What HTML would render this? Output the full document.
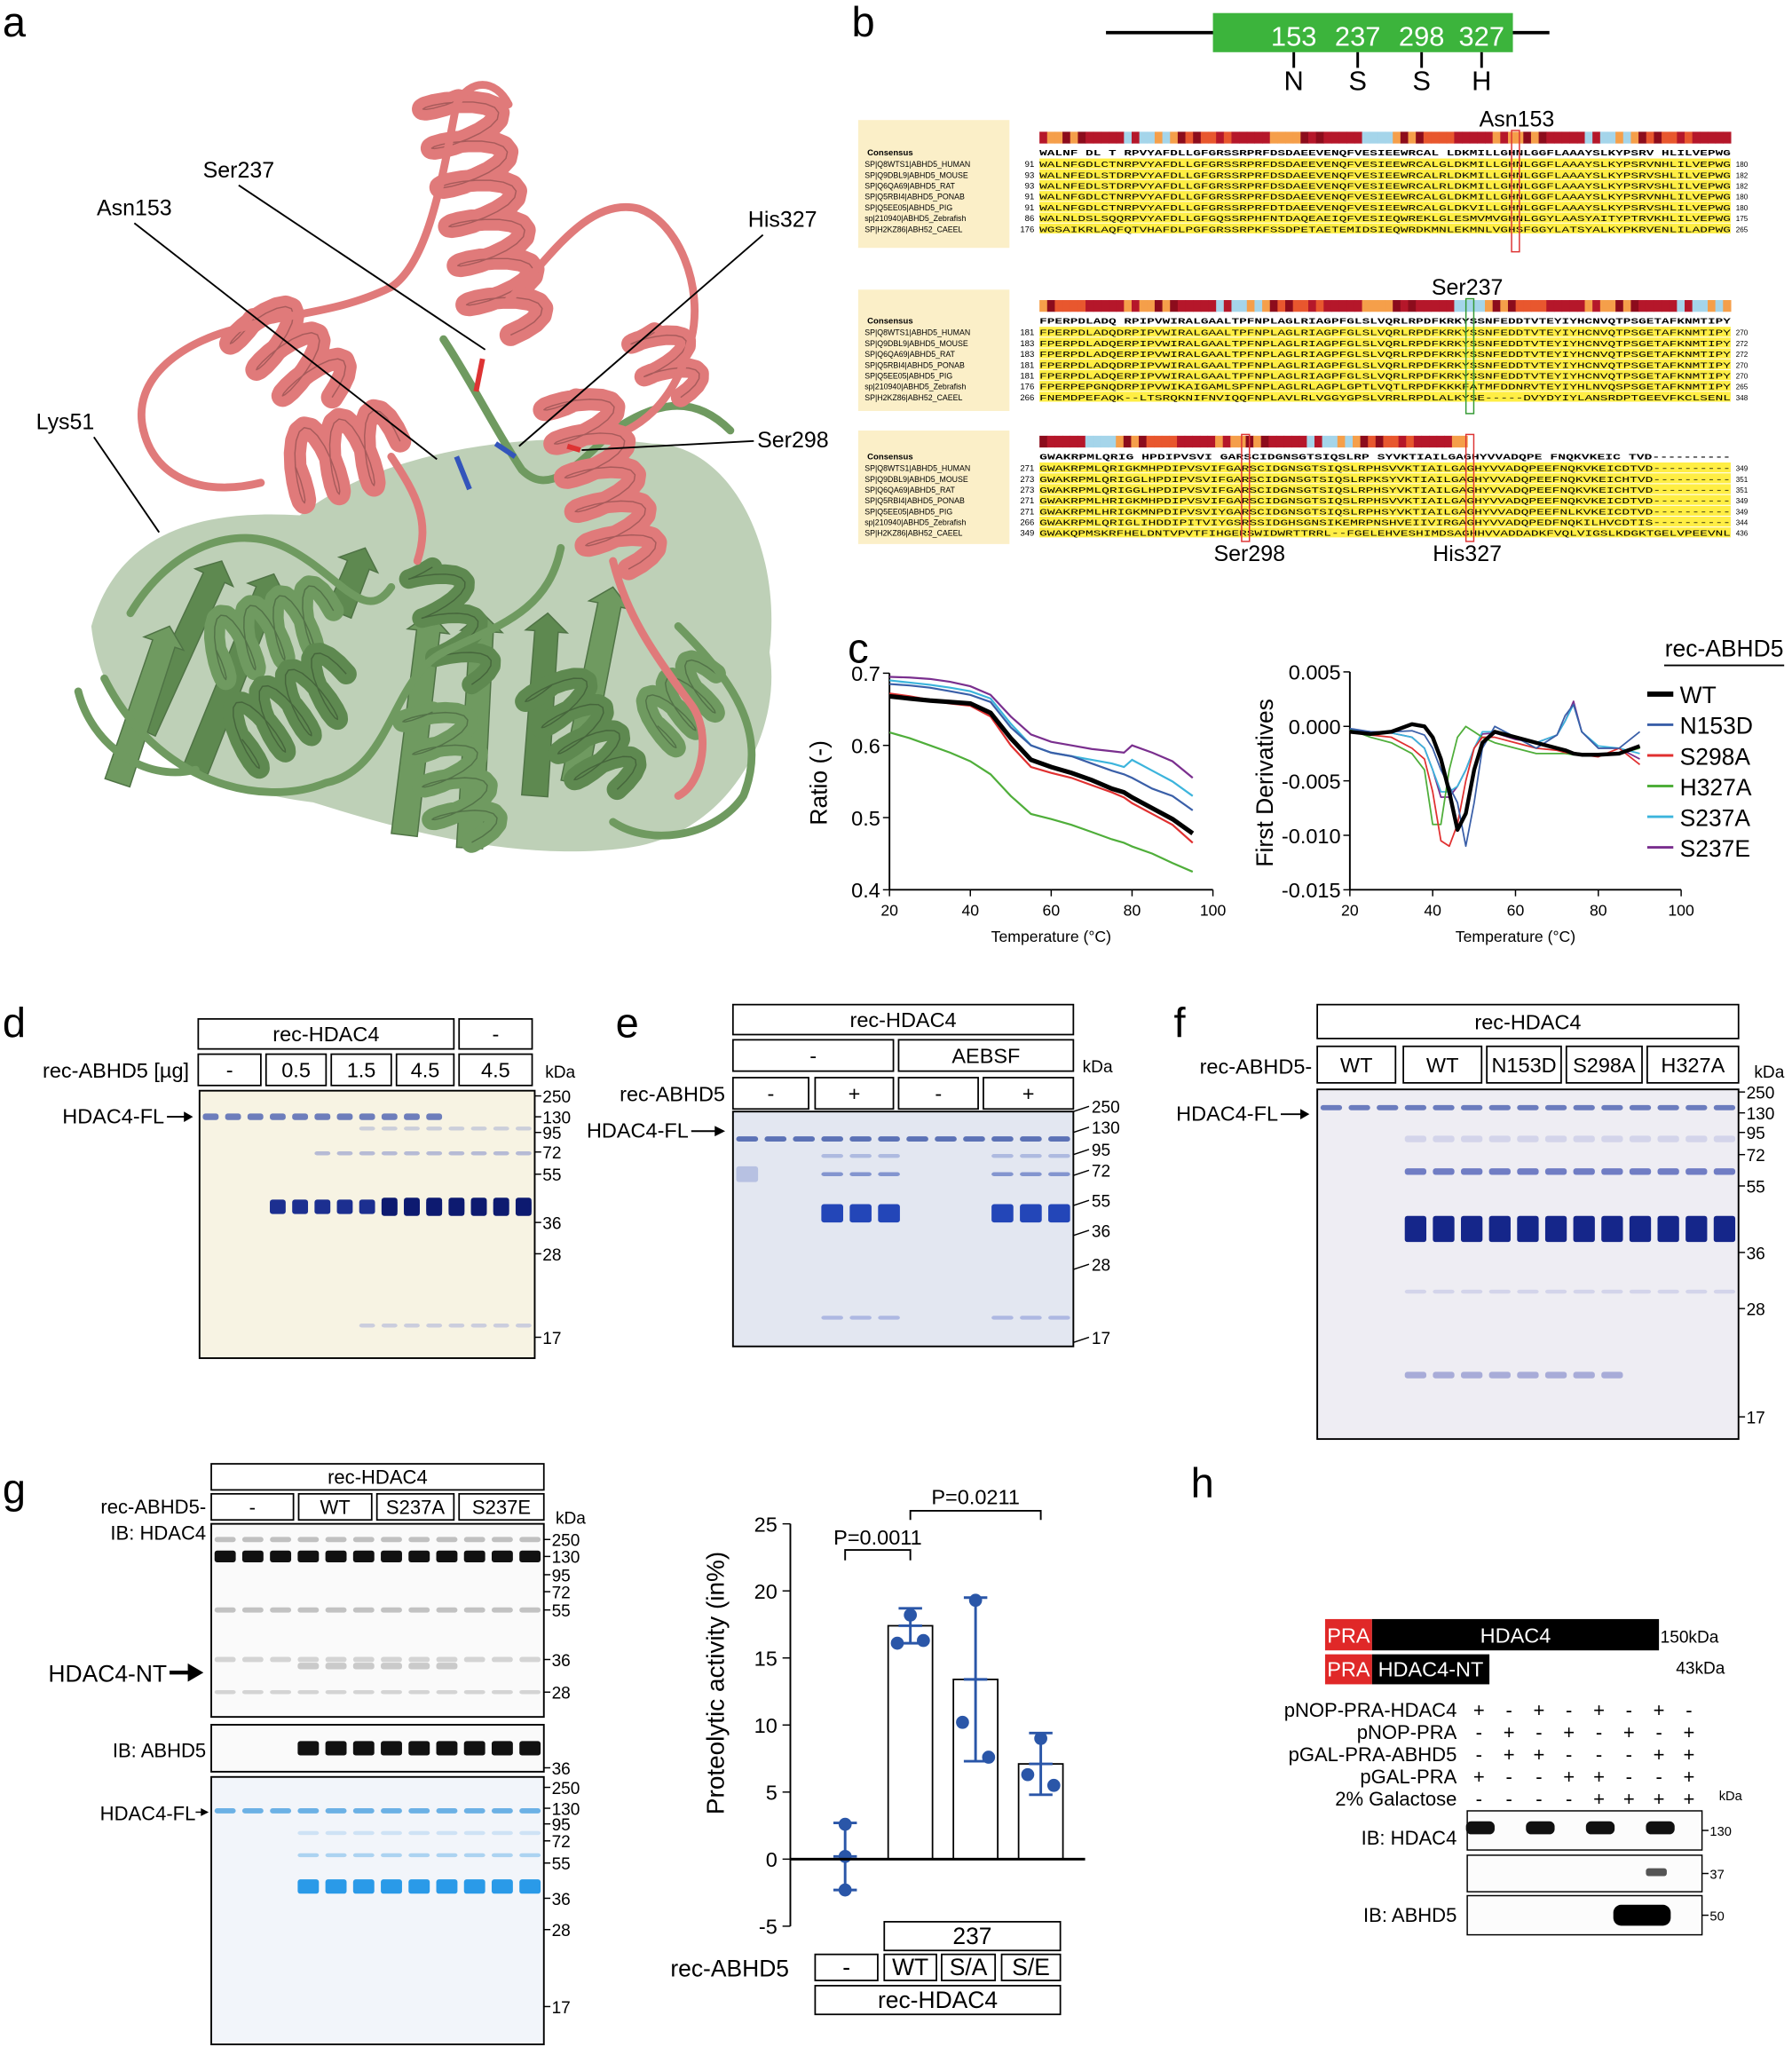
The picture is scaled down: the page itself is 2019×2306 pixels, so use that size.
<!DOCTYPE html>
<html><head><meta charset="utf-8"><style>
html,body{margin:0;padding:0;background:#fff}
svg{display:block}
text{font-family:"Liberation Sans",sans-serif}
.mono{font-family:"Liberation Mono",monospace}
</style></head><body>
<svg id="fig" xmlns="http://www.w3.org/2000/svg" width="2019" height="2306" viewBox="0 0 1374 1569" preserveAspectRatio="none">
<g id="letters" font-size="32">
<text x="2" y="28">a</text>
<text x="653" y="28">b</text>
<text x="650" y="508">c</text>
<text x="2" y="795">d</text>
<text x="472" y="795">e</text>
<text x="900" y="795">f</text>
<text x="2" y="1152">g</text>
<text x="913" y="1148">h</text>
</g>
<g id="protein"></g>
<g id="align"></g>
<g id="chartc"></g>
<g id="gels"></g>
<g id="bars"></g>
<g id="panelh"></g>
</svg>
<script>
// ---- chart c data ----
const tempsL = [20,25,30,35,40,45,50,55,60,65,70,75,78,80,85,90,95];
const ratioWT    = [0.668,0.665,0.662,0.660,0.658,0.645,0.610,0.580,0.570,0.562,0.552,0.540,0.535,0.528,0.513,0.498,0.478];
const ratioN153D = [0.685,0.683,0.680,0.675,0.670,0.660,0.625,0.600,0.590,0.585,0.575,0.565,0.560,0.555,0.540,0.530,0.510];
const ratioS298A = [0.672,0.668,0.663,0.658,0.655,0.640,0.600,0.570,0.562,0.555,0.545,0.535,0.528,0.520,0.505,0.490,0.465];
const ratioH327A = [0.618,0.610,0.600,0.590,0.578,0.560,0.530,0.505,0.498,0.490,0.480,0.470,0.465,0.460,0.450,0.437,0.425];
const ratioS237A = [0.690,0.687,0.684,0.680,0.675,0.665,0.630,0.600,0.590,0.585,0.580,0.575,0.570,0.580,0.565,0.550,0.530];
const ratioS237E = [0.695,0.694,0.692,0.688,0.682,0.670,0.640,0.615,0.605,0.600,0.595,0.592,0.590,0.600,0.590,0.578,0.555];
const tempsR = [20,25,30,35,38,40,42,44,46,48,50,52,55,60,65,70,72,74,76,80,85,90];
const derWT    = [-0.0005,-0.0007,-0.0005,0.0002,0,-0.001,-0.003,-0.006,-0.0095,-0.008,-0.004,-0.0015,-0.0005,-0.001,-0.0015,-0.002,-0.0022,-0.0025,-0.0026,-0.0026,-0.0025,-0.0018];
const derN153D = [-0.0002,-0.0005,-0.0005,-0.0004,-0.0008,-0.002,-0.004,-0.0055,-0.007,-0.011,-0.007,-0.002,0,-0.001,-0.002,-0.0008,0.001,0.002,-0.0005,-0.002,-0.002,-0.0005];
const derS298A = [-0.0005,-0.0008,-0.001,-0.002,-0.003,-0.006,-0.0105,-0.011,-0.009,-0.005,-0.002,-0.001,-0.001,-0.0015,-0.002,-0.0022,-0.0024,-0.0025,-0.0026,-0.0028,-0.002,-0.0035];
const derH327A = [-0.0003,-0.001,-0.0015,-0.0025,-0.004,-0.009,-0.009,-0.004,-0.001,0,-0.0005,-0.001,-0.0015,-0.002,-0.0025,-0.0025,-0.0025,-0.0026,-0.0026,-0.0026,-0.0025,-0.002];
const derS237A = [-0.0003,-0.0005,-0.0006,-0.001,-0.002,-0.004,-0.006,-0.006,-0.0055,-0.004,-0.002,-0.0005,-0.0005,-0.001,-0.0015,-0.0008,0.0005,0.002,-0.0005,-0.0018,-0.002,-0.0025];
const derS237E = [-0.0003,-0.0005,-0.0006,-0.001,-0.002,-0.004,-0.0065,-0.0065,-0.0055,-0.004,-0.002,-0.0007,-0.0006,-0.0012,-0.0015,-0.0008,0.0005,0.0023,-0.0005,-0.002,-0.002,-0.003];
const seriesNames = ["WT","N153D","S298A","H327A","S237A","S237E"];
const xTicksC = [20,40,60,80,100];
const yTicksL = [0.4,0.5,0.6,0.7];
const yTicksR = [-0.015,-0.010,-0.005,0.000,0.005];
// ---- bar chart g data ----
const barCats = ["-","WT","S/A","S/E"];
const barMeans = [0.2,17.4,13.4,7.1];
const barSD = [2.5,1.3,6.1,2.3];
const barPoints = [[2.6,0.2,-2.3],[18.2,16.1,16.3],[19.3,10.2,7.6],[9.0,6.3,5.5]];
const barTicks = [-5,0,5,10,15,20,25];

const NS="http://www.w3.org/2000/svg";
function el(p,tag,attrs,txt){const e=document.createElementNS(NS,tag);for(const k in attrs)e.setAttribute(k,attrs[k]);if(txt!==undefined)e.textContent=txt;p.appendChild(e);return e;}
function T(p,x,y,s,size,anchor,extra){const e=el(p,'text',Object.assign({x:x,y:y,'font-size':size||14,'text-anchor':anchor||'start'},extra||{}),s);return e;}

// ================= Panel a: protein =================
(function(){
 const g=document.getElementById('protein');
 function coil(x1,y1,x2,y2,turns,amp,col,w){
  let d='';const n=turns*16;const dx=x2-x1,dy=y2-y1,L=Math.hypot(dx,dy),ux=dx/L,uy=dy/L,px=-uy,py=ux;
  for(let i=0;i<=n;i++){const t=i/n;const s=Math.sin(t*turns*2*Math.PI)*amp;const c=Math.cos(t*turns*2*Math.PI)*amp*0.25;
   const x=x1+dx*t+px*s+ux*c,y=y1+dy*t+py*s+uy*c;d+=(i?'L':'M')+x.toFixed(1)+' '+y.toFixed(1);}
  const p=el(g,'path',{d:d,fill:'none',stroke:col,'stroke-width':w||16,'stroke-linejoin':'round','stroke-linecap':'round'});
  
  el(g,'path',{d:d,fill:'none',stroke:'rgba(0,0,0,0.25)','stroke-width':1,'stroke-linejoin':'round'});
 }
 function loop(d,col,w){const p=el(g,'path',{d:d,fill:'none',stroke:col,'stroke-width':w||5,'stroke-linecap':'round','stroke-linejoin':'round'});}
 function sheet(x1,y1,x2,y2,col){const dx=x2-x1,dy=y2-y1,L=Math.hypot(dx,dy),px=-dy/L*10,py=dx/L*10;
  const p=el(g,'polygon',{points:`${x1+px},${y1+py} ${x2+px*0.9-dx/L*14},${y2+py*0.9-dy/L*14} ${x2+px*1.6-dx/L*14},${y2+py*1.6-dy/L*14} ${x2},${y2} ${x2-px*1.6-dx/L*14},${y2-py*1.6-dy/L*14} ${x2-px*0.9-dx/L*14},${y2-py*0.9-dy/L*14} ${x1-px},${y1-py}`,fill:col,stroke:'#4f7345','stroke-width':1});
  }
 const G='#6f9a60',G2='#5e8950',R='#e07a7a';
 const gb=el(g,'path',{d:'M70 480 C90 410 150 390 230 395 C300 340 420 330 500 340 C560 340 600 420 590 500 C600 560 560 640 480 650 C400 660 320 640 240 615 C160 605 80 570 70 480Z',fill:'rgba(110,150,95,0.45)',stroke:'none'});
 
 sheet(110,560,170,430,G2);sheet(150,590,210,440,G2);sheet(310,640,330,470,G);sheet(360,650,370,470,G);sheet(410,610,420,470,G2);sheet(440,600,470,450,G);sheet(260,470,280,420,G2);sheet(90,600,130,480,G);
 coil(160,500,250,470,4,24,G,16);coil(180,570,260,520,4,26,G2,16);coil(330,540,360,640,4,24,G,16);coil(420,520,470,600,4,24,G2,16);coil(500,560,545,520,3,22,G,15);coil(330,430,360,520,3,20,G2,15);
 loop('M80 520 C120 600 200 620 250 600 C300 590 300 520 340 500 C380 480 420 470 430 420',G,6);
 loop('M100 470 C130 420 180 400 220 420 C260 440 280 480 300 450',G,6);
 loop('M340 260 C360 290 380 330 400 360 C420 380 440 360 470 330 C500 310 530 300 560 330',G,6);
 loop('M520 480 C560 520 590 560 570 610 C550 640 500 650 470 630',G,6);
 loop('M60 530 C70 570 110 600 150 590',G,6);
 coil(350,70,390,250,6,28,R,17);coil(190,240,250,300,3,26,R,17);coil(220,360,300,340,3,28,R,17);coil(440,300,480,430,5,26,R,17);coil(500,250,520,300,2,20,R,15);
 loop('M110 330 C100 290 140 260 190 250 C220 240 260 240 300 220 C330 200 340 130 350 80 C360 60 380 60 390 80',R,6);
 loop('M390 230 C420 200 450 150 490 160 C520 170 540 220 530 260 C520 300 500 320 480 330',R,6);
 loop('M110 330 C120 370 160 380 200 370',R,6);
 loop('M300 350 C320 380 330 400 320 430',R,6);
 loop('M470 430 C480 470 500 500 530 540 C545 560 540 600 520 610',R,6);
 el(g,'line',{x1:350,y1:350,x2:360,y2:375,stroke:'#3355bb','stroke-width':4});
 el(g,'line',{x1:370,y1:275,x2:365,y2:300,stroke:'#dd3333','stroke-width':4});
 el(g,'line',{x1:380,y1:340,x2:395,y2:350,stroke:'#3355bb','stroke-width':4});
 el(g,'line',{x1:435,y1:342,x2:445,y2:345,stroke:'#dd3333','stroke-width':4});
 const ann=[["Ser237",183,136,372,268],["Asn153",103,165,335,352],["His327",600,174,398,342],["Ser298",608,343,446,345],["Lys51",50,329,122,408]];
 ann.forEach(a=>{const t=T(g,a[1],a[2],a[0],17,'middle');
  el(g,'line',{x1:a[0]=="Ser298"?578:(a[0]=="His327"?585:a[1]+(a[0]=="Lys51"?22:0)),y1:a[0]=="Ser298"?338:a[2]+6,x2:a[3],y2:a[4],stroke:'#000','stroke-width':1.3});});
})();

// ================= Panel b: domain + alignment =================
(function(){
 const g=document.getElementById('align');
 el(g,'line',{x1:848,y1:25,x2:1188,y2:25,stroke:'#000','stroke-width':2.5});
 const dm=el(g,'rect',{x:930,y:10,width:230,height:30,fill:'#3cb43c'});
 [[992,'153','N'],[1041,'237','S'],[1090,'298','S'],[1136,'327','H']].forEach(r=>{
  T(g,r[0],35,r[1],21,'middle',{fill:'#fff'});
  el(g,'line',{x1:r[0],y1:40,x2:r[0],y2:52,stroke:'#000','stroke-width':2});
  T(g,r[0],69,r[2],21,'middle');});
 const names=["SP|Q8WTS1|ABHD5_HUMAN","SP|Q9DBL9|ABHD5_MOUSE","SP|Q6QA69|ABHD5_RAT","SP|Q5RBI4|ABHD5_PONAB","SP|Q5EE05|ABHD5_PIG","sp|210940|ABHD5_Zebrafish","SP|H2KZ86|ABH52_CAEEL"];
 const blocks=[
  {y:92,h:98,bar:101,bw:530,cons:"WALNF DL T RPVYAFDLLGFGRSSRPRFDSDAEEVENQFVESIEEWRCAL LDKMILLGHNLGGFLAAAYSLKYPSRV HLILVEPWG",
   nums:[91,93,93,91,91,86,176],ends:[180,182,182,180,180,175,265],
   seq:["WALNFGDLCTNRPVYAFDLLGFGRSSRPRFDSDAEEVENQFVESIEEWRCALGLDKMILLGHNLGGFLAAAYSLKYPSRVNHLILVEPWG","WALNFEDLSTDRPVYAFDLLGFGRSSRPRFDSDAEEVENQFVESIEEWRCALRLDKMILLGHNLGGFLAAAYSLKYPSRVSHLILVEPWG","WALNFEDLSTDRPVYAFDLLGFGRSSRPRFDSDAEEVENQFVESIEEWRCALRLDKMILLGHNLGGFLAAAYSLKYPSRVSHLILVEPWG","WALNFGDLCTNRPVYAFDLLGFGRSSRPRFDSDAEEVENQFVESIEEWRCALGLDKMILLGHNLGGFLAAAYSLKYPSRVNHLILVEPWG","WALNFGDLCTNRPVYAFDLLGFGRSSRPRFDTDAEEVENQFVESIEEWRCALGLDKVILLGHNLGGFLAAAYSLKYPSRVSHLILVEPWG","WALNLDSLSQQRPVYAFDLLGFGQSSRPHFNTDAQEAEIQFVESIEQWREKLGLESMVMVGHNLGGYLAASYAITYPTRVKHLILVEPWG","WGSAIKRLAQFQTVHAFDLPGFGRSSRPKFSSDPETAETEMIDSIEQWRDKMNLEKMNLVGHSFGGYLATSYALKYPKRVENLILADPWG"],
   marks:[[1162,'#dd3333','Asn153',1163,97,'above']]},
  {y:222,h:93,bar:230,bw:530,cons:"FPERPDLADQ RPIPVWIRALGAALTPFNPLAGLRIAGPFGLSLVQRLRPDFKRKYSSNFEDDTVTEYIYHCNVQTPSGETAFKNMTIPY",
   nums:[181,183,183,181,181,176,266],ends:[270,272,272,270,270,265,348],
   seq:["FPERPDLADQDRPIPVWIRALGAALTPFNPLAGLRIAGPFGLSLVQRLRPDFKRKYSSNFEDDTVTEYIYHCNVQTPSGETAFKNMTIPY","FPERPDLADQERPIPVWIRALGAALTPFNPLAGLRIAGPFGLSLVQRLRPDFKRKYSSNFEDDTVTEYIYHCNVQTPSGETAFKNMTIPY","FPERPDLADQERPIPVWIRALGAALTPFNPLAGLRIAGPFGLSLVQRLRPDFKRKYSSNFEDDTVTEYIYHCNVQTPSGETAFKNMTIPY","FPERPDLADQDRPIPVWIRALGAALTPFNPLAGLRIAGPFGLSLVQRLRPDFKRKYSSNFEDDTVTEYIYHCNVQTPSGETAFKNMTIPY","FPERPDLADQERPIPVWIRALGAALTPFNPLAGLRIAGPFGLSLVQRLRPDFKRKYSSNFEDDTVTEYIYHCNVQTPSGETAFKNMTIPY","FPERPEPGNQDRPIPVWIKAIGAMLSPFNPLAGLRLAGPLGPTLVQTLRPDFKKKFATMFDDNRVTEYIYHLNVQSPSGETAFKNMTIPY","FNEMDPEFAQK--LTSRQKNIFNVIQQFNPLAVLRLVGGYGPSLVRRLRPDLALKYSE-----DVYDYIYLANSRDPTGEEVFKCLSENL"],
   marks:[[1127,'#339933','Ser237',1125,221,'above']]},
  {y:330,h:87,bar:334,bw:328,cons:"GWAKRPMLQRIG HPDIPVSVI GARSCIDGNSGTSIQSLRP SYVKTIAILGAGHYVVADQPE FNQKVKEIC TVD----------",
   nums:[271,273,273,271,271,266,349],ends:[349,351,351,349,349,344,436],
   seq:["GWAKRPMLQRIGKMHPDIPVSVIFGARSCIDGNSGTSIQSLRPHSVVKTIAILGAGHYVVADQPEEFNQKVKEICDTVD----------","GWAKRPMLQRIGGLHPDIPVSVIFGARSCIDGNSGTSIQSLRPKSYVKTIAILGAGHYVVADQPEEFNQKVKEICHTVD----------","GWAKRPMLQRIGGLHPDIPVSVIFGARSCIDGNSGTSIQSLRPHSYVKTIAILGAGHYVVADQPEEFNQKVKEICHTVD----------","GWAKRPMLHRIGKMHPDIPVSVIFGARSCIDGNSGTSIQSLRPHSVVKTIAILGAGHYVVADQPEEFNQKVKEICDTVD----------","GWAKRPMLHRIGKMNPDIPVSVIYGARSCIDGNSGTSIQSLRPHSYVKTIAILGAGHYVVADQPEEFNLKVKEICDTVD----------","GWAKRPMLQRIGLIHDDIPITVIYGSRSSIDGHSGNSIKEMRPNSHVEIIVIRGAGHYVVADQPEDFNQKILHVCDTIS----------","GWAKQPMSKRFHELDNTVPVTFIHGERSWIDWRTTRRL--FGELEHVESHIMDSAGHHVVADDADKFVQLVIGSLKDGKTGELVPEEVNL"],
   marks:[[955,'#dd3333','Ser298',958,434,'below'],[1127,'#dd3333','His327',1125,434,'below']]}
 ];
 const conColors=['#b5172a','#b5172a','#e8572e','#f59f4a','#a5d5ea','#b5172a','#8c0c1c','#f59f4a','#b5172a','#e8572e','#8c0c1c','#a5d5ea','#b5172a','#b5172a','#f59f4a'];
 blocks.forEach((b,bi)=>{
  const bg=el(g,'rect',{x:658,y:b.y,width:116,height:b.h,fill:'#fbefc8'});
  const nseg=Math.round(b.bw/5.9);
  for(let i=0;i<nseg;i++){el(g,'rect',{x:797+i*b.bw/nseg,y:b.bar,width:b.bw/nseg+0.4,height:9,fill:conColors[(i*7+bi*3+(i>>2))%conColors.length]});}
  T(g,665,b.bar+18,'Consensus',6.5,'start',{'font-weight':'bold'});
  T(g,797,b.bar+18,b.cons,6.5,'start',{class:'mono','font-weight':'bold',textLength:530,lengthAdjust:'spacingAndGlyphs'});
  for(let r=0;r<7;r++){const yy=b.bar+27+r*8.3;
   el(g,'rect',{x:797,y:yy-6.5,width:530,height:7.6,fill:'#ffee44'});
   T(g,663,yy,names[r],6,'start');
   T(g,793,yy,String(b.nums[r]),6.5,'end');
   T(g,797,yy,b.seq[r],6.5,'start',{class:'mono',textLength:530,lengthAdjust:'spacingAndGlyphs'});
   T(g,1331,yy,String(b.ends[r]),5.5,'start');}
  b.marks.forEach(m=>{el(g,'rect',{x:m[0]-3,y:b.bar-1,width:6,height:b.h-5,fill:'none',stroke:m[1],'stroke-width':1});
   const t=T(g,m[3],m[5]=='above'?b.bar-4:b.y+b.h+13,m[2],17,'middle');});
 });
})();

// ================= Panel c =================
(function(){
 const g=document.getElementById('chartc');
 const cols={"WT":"#000","N153D":"#3a5fa8","S298A":"#e03030","H327A":"#4fae3a","S237A":"#3cb4dc","S237E":"#7a2f8e"};
 const xL=t=>682+(t-20)/80*248, yL=v=>682-(v-0.4)/0.3*166;
 const xR=t=>1035+(t-20)/80*254, yR=v=>682-(v+0.015)/0.02*167;
 function axes(xf,yf,yt,fmt,x0,xlab,ylab,ylx,nm){
  el(g,'line',{x1:x0,y1:682,x2:xf(100),y2:682,stroke:'#000','stroke-width':1.3});
  el(g,'line',{x1:x0,y1:yf(yt[0]),x2:x0,y2:yf(yt[yt.length-1]),stroke:'#000','stroke-width':1.3});
  xTicksC.forEach(t=>{el(g,'line',{x1:xf(t),y1:682,x2:xf(t),y2:687,stroke:'#000'});T(g,xf(t),702,String(t),12,'middle');});
  yt.forEach(v=>{el(g,'line',{x1:x0-5,y1:yf(v),x2:x0,y2:yf(v),stroke:'#000'});T(g,x0-7,yf(v)+6,fmt(v),16,'end');});
  T(g,(x0+xf(100))/2,722,xlab,12,'middle');
  const yl=T(g,ylx,600,ylab,18,'middle',{transform:`rotate(-90 ${ylx} 600)`});
 }
 axes(xL,yL,yTicksL,v=>v.toFixed(1),682,'Temperature (°C)','Ratio (-)',634,'y-axis-title-ratio');
 axes(xR,yR,yTicksR,v=>v.toFixed(3),1035,'Temperature (°C)','First Derivatives',976,'y-axis-title-derivative');
 const L=[ratioWT,ratioN153D,ratioS298A,ratioH327A,ratioS237A,ratioS237E];
 const R=[derWT,derN153D,derS298A,derH327A,derS237A,derS237E];
 [5,4,3,2,1,0].forEach(i=>{const n=seriesNames[i];
  let d=tempsL.map((t,k)=>(k?'L':'M')+xL(t).toFixed(1)+' '+yL(L[i][k]).toFixed(1)).join('');
  const p=el(g,'path',{d:d,fill:'none',stroke:cols[n],'stroke-width':n=='WT'?3.5:1.5});
  
  d=tempsR.map((t,k)=>(k?'L':'M')+xR(t).toFixed(1)+' '+yR(R[i][k]).toFixed(1)).join('');
  const q=el(g,'path',{d:d,fill:'none',stroke:cols[n],'stroke-width':n=='WT'?3:1.2,'stroke-linejoin':'round'});
  });
 const lt=T(g,1322,503,'rec-ABHD5',18,'middle');
 el(g,'line',{x1:1276,y1:510,x2:1368,y2:510,stroke:'#000','stroke-width':1.3});
 seriesNames.forEach((n,i)=>{const y=532+i*23.5;
  const lg=el(g,'g',{});
  el(lg,'line',{x1:1263,y1:y,x2:1283,y2:y,stroke:cols[n],'stroke-width':n=='WT'?4:2});
  T(lg,1288,y+7,n,18,'start');});
})();

// ================= Gels =================
(function(){
 const g=document.getElementById('gels');
 function box(x1,y1,x2,y2,txt,size,nm){const r=el(g,'rect',{x:x1,y:y1,width:x2-x1,height:y2-y1,fill:'#fff',stroke:'#000','stroke-width':1.2});
  T(g,(x1+x2)/2,(y1+y2)/2+(size||16)*0.36,txt,size||16,'middle');}
 function markers(x,list,kdaY,kx){if(kdaY)T(g,kx||x+2,kdaY,'kDa',13,'start');list.forEach(m=>{el(g,'line',{x1:x,y1:m[1],x2:x+5,y2:m[1],stroke:'#000'});T(g,x+6,m[1]+5,m[0],13,'start');});}
 function gel(x,y,w,h,bg,n,bands,nm){const r=el(g,'rect',{x:x,y:y,width:w,height:h,fill:bg,stroke:'#000','stroke-width':1.3});
  const lw=w/n;bands.forEach(b=>{for(let i=b.from;i<=b.to;i++){el(g,'rect',{x:x+i*lw+2.5,y:b.y-b.h/2,width:lw-5,height:b.h,fill:b.c,opacity:b.o===undefined?1:b.o,rx:2});}});}
 box(152,781,348,804,'rec-HDAC4',16);box(352,781,408,804,'-',16);
 [['-',152,200],['0.5',204,250],['1.5',254,300],['4.5',304,348],['4.5',352,408]].forEach(b=>box(b[1],808,b[2],832,b[0],16));
 T(g,145,826,'rec-ABHD5 [µg]',16,'end');
 gel(153,836,257,205,'#f7f3e3',15,[{from:0,to:10,y:856,h:5,c:'#4a5fb0',o:0.8},{from:3,to:14,y:925,h:11,c:'#1c2f90'},{from:8,to:14,y:925,h:14,c:'#0d1a70'},{from:5,to:14,y:884,h:3,c:'#8a95cc',o:0.6},{from:7,to:14,y:865,h:3,c:'#8a95cc',o:0.4},{from:7,to:14,y:1016,h:3,c:'#a0a8d8',o:0.5}],'gel-d');
 T(g,126,861,'HDAC4-FL',16,'end');el(g,'line',{x1:128,y1:856,x2:146,y2:856,stroke:'#000','stroke-width':1.3});el(g,'polygon',{points:'148,856 141,852 141,860'});
 markers(410,[['250',840],['130',856],['95',868],['72',883],['55',900],['36',937],['28',961],['17',1025]],826,418);
 box(562,770,823,793,'rec-HDAC4',16);box(562,797,685,821,'-',16);box(689,797,823,821,'AEBSF',16);
 [['-',562,620],['+',625,685],['-',689,750],['+',754,823]].forEach(b=>box(b[1],826,b[2],850,b[0],16));
 T(g,556,844,'rec-ABHD5',16,'end');T(g,830,822,'kDa',13,'start');
 gel(562,852,261,180,'#e3e7f1',12,[{from:0,to:11,y:873,h:4,c:'#3a55a8',o:0.8},{from:3,to:5,y:930,h:14,c:'#2346b8'},{from:9,to:11,y:930,h:14,c:'#2346b8'},{from:3,to:5,y:900,h:3,c:'#5a72c0',o:0.7},{from:9,to:11,y:900,h:3,c:'#5a72c0',o:0.7},{from:3,to:5,y:886,h:3,c:'#7a8ed0',o:0.5},{from:9,to:11,y:886,h:3,c:'#7a8ed0',o:0.5},{from:3,to:5,y:1010,h:3,c:'#8a9ad8',o:0.6},{from:9,to:11,y:1010,h:3,c:'#8a9ad8',o:0.6},{from:0,to:0,y:900,h:12,c:'#9aa8d8',o:0.6}],'gel-e');
 T(g,528,872,'HDAC4-FL',16,'end');el(g,'line',{x1:530,y1:867,x2:552,y2:867,stroke:'#000','stroke-width':1.3});el(g,'polygon',{points:'556,867 548,863 548,871'});
 [['250',848],['130',864],['95',881],['72',897],['55',920],['36',943],['28',969],['17',1025]].forEach(m=>{el(g,'line',{x1:823,y1:m[1]+4,x2:835,y2:m[1],stroke:'#000'});T(g,837,m[1]+5,m[0],13,'start');});
 box(1010,770,1333,796,'rec-HDAC4',16);
 [['WT',1010,1070],['WT',1076,1136],['N153D',1140,1197],['S298A',1201,1259],['H327A',1263,1333]].forEach(b=>box(b[1],802,b[2],830,b[0],16));
 T(g,1006,823,'rec-ABHD5-',16,'end');
 gel(1010,835,323,268,'#eeedf3',15,[{from:0,to:14,y:849,h:4,c:'#4a5fb0',o:0.8},{from:3,to:14,y:942,h:20,c:'#15268a'},{from:3,to:14,y:898,h:5,c:'#5060b8',o:0.8},{from:3,to:14,y:873,h:5,c:'#aab0dd',o:0.4},{from:3,to:10,y:1054,h:5,c:'#8a90cc',o:0.7},{from:3,to:14,y:990,h:3,c:'#aab0dd',o:0.4}],'gel-f');
 T(g,980,859,'HDAC4-FL',16,'end');el(g,'line',{x1:982,y1:854,x2:1000,y2:854,stroke:'#000','stroke-width':1.3});el(g,'polygon',{points:'1004,854 997,850 997,858'});
 markers(1333,[['250',837],['130',853],['95',868],['72',885],['55',909],['36',960],['28',1003],['17',1086]],826,1345);
 box(162,1122,417,1142,'rec-HDAC4',15);
 [['-',162,225],['WT',229,285],['S237A',289,348],['S237E',352,417]].forEach(b=>box(b[1],1145,b[2],1165,b[0],15));
 T(g,158,1160,'rec-ABHD5-',15,'end');T(g,158,1180,'IB: HDAC4',15,'end');
 gel(162,1168,255,148,'#fafafa',12,[{from:0,to:11,y:1193,h:9,c:'#111'},{from:0,to:11,y:1180,h:4,c:'#999',o:0.6},{from:0,to:11,y:1234,h:4,c:'#aaa',o:0.7},{from:0,to:11,y:1272,h:4,c:'#bbb',o:0.6},{from:3,to:8,y:1277,h:5,c:'#999',o:0.5},{from:0,to:11,y:1297,h:3,c:'#bbb',o:0.6}],'gel-g-hdac4-blot');
 markers(417,[['250',1180],['130',1193],['95',1207],['72',1220],['55',1234],['36',1272],['28',1297]],1168,426);
 T(g,128,1289,'HDAC4-NT',18,'end');el(g,'line',{x1:130,y1:1282,x2:145,y2:1282,stroke:'#000','stroke-width':3});el(g,'polygon',{points:'156,1282 144,1275 144,1289'});
 T(g,158,1347,'IB: ABHD5',15,'end');
 gel(162,1322,255,36,'#fafafa',12,[{from:3,to:11,y:1340,h:11,c:'#111'}],'gel-g-abhd5-blot');
 markers(417,[['36',1355]]);
 gel(162,1362,255,205,'#f2f5fa',12,[{from:0,to:11,y:1388,h:4,c:'#4aa0e0',o:0.8},{from:3,to:11,y:1446,h:11,c:'#2a9ae8'},{from:3,to:11,y:1422,h:3,c:'#8ec4ec',o:0.7},{from:3,to:11,y:1405,h:3,c:'#aad0f0',o:0.5}],'gel-g-coomassie');
 T(g,150,1395,'HDAC4-FL',15,'end');el(g,'line',{x1:150,y1:1389,x2:157,y2:1389,stroke:'#000'});el(g,'polygon',{points:'160,1389 154,1386 154,1392'});
 markers(417,[['250',1370],['130',1386],['95',1398],['72',1411],['55',1428],['36',1455],['28',1479],['17',1538]]);
})();

// ================= Bar chart g =================
(function(){
 const g=document.getElementById('bars');
 const y=v=>1425-v*10.28; const xc=i=>648+i*50; const bw=34;
 el(g,'line',{x1:606,y1:y(-5),x2:606,y2:y(25),stroke:'#000','stroke-width':1.3});
 barTicks.forEach(t=>{el(g,'line',{x1:600,y1:y(t),x2:606,y2:y(t),stroke:'#000'});T(g,596,y(t)+6,String(t),16,'end');});
 const yl=T(g,555,1290,'Proteolytic activity  (in%)',19,'middle',{transform:'rotate(-90 555 1290)'});
 barCats.forEach((c,i)=>{
  if(i>0){const r=el(g,'rect',{x:xc(i)-bw/2,y:Math.min(y(barMeans[i]),y(0)),width:bw,height:Math.abs(y(barMeans[i])-y(0)),fill:'#fff',stroke:'#000','stroke-width':1.2});
   }
  const hi=y(barMeans[i]+barSD[i]),lo=y(barMeans[i]-barSD[i]);
  el(g,'line',{x1:xc(i),y1:hi,x2:xc(i),y2:lo,stroke:'#2a56a8','stroke-width':2});
  el(g,'line',{x1:xc(i)-9,y1:hi,x2:xc(i)+9,y2:hi,stroke:'#2a56a8','stroke-width':2});
  el(g,'line',{x1:xc(i)-9,y1:lo,x2:xc(i)+9,y2:lo,stroke:'#2a56a8','stroke-width':2});
  el(g,'line',{x1:xc(i)-9,y1:y(barMeans[i]),x2:xc(i)+9,y2:y(barMeans[i]),stroke:'#2a56a8','stroke-width':2});
  barPoints[i].forEach((p,k)=>{const c2=el(g,'circle',{cx:xc(i)+(k==0?0:(k==1?-10:10))*(i==0?0:1),cy:y(p),r:5,fill:'#2a56a8'});});
 });
 el(g,'line',{x1:606,y1:y(0),x2:832,y2:y(0),stroke:'#000','stroke-width':2});
 el(g,'path',{d:`M${xc(0)} 1196 V1188 H${xc(1)} V1196`,fill:'none',stroke:'#000','stroke-width':1.3});
 T(g,(xc(0)+xc(1))/2,1184,'P=0.0011',16,'middle');
 el(g,'path',{d:`M${xc(1)} 1165 V1158 H${xc(3)} V1165`,fill:'none',stroke:'#000','stroke-width':1.3});
 T(g,(xc(1)+xc(3))/2,1153,'P=0.0211',16,'middle');
 function box(x1,y1,x2,y2,txt){el(g,'rect',{x:x1,y:y1,width:x2-x1,height:y2-y1,fill:'#fff',stroke:'#000','stroke-width':1.2});T(g,(x1+x2)/2,(y1+y2)/2+6,txt,18,'middle');}
 box(678,1473,813,1495,'237');
 box(625,1498,673,1518,barCats[0]);box(678,1498,718,1518,barCats[1]);box(722,1498,763,1518,barCats[2]);box(768,1498,813,1518,barCats[3]);
 box(625,1522,813,1544,'rec-HDAC4');
 T(g,605,1515,'rec-ABHD5',18,'end');
})();

// ================= Panel h =================
(function(){
 const g=document.getElementById('panelh');
 el(g,'rect',{x:1016,y:1241,width:36,height:24,fill:'#e02828'});el(g,'rect',{x:1052,y:1241,width:220,height:24,fill:'#000'});
 T(g,1034,1259,'PRA',16,'middle',{fill:'#fff'});T(g,1162,1259,'HDAC4',16,'middle',{fill:'#fff'});T(g,1273,1259,'150kDa',13,'start');
 el(g,'rect',{x:1016,y:1268,width:36,height:23,fill:'#e02828'});el(g,'rect',{x:1052,y:1268,width:90,height:23,fill:'#000'});
 T(g,1034,1285,'PRA',16,'middle',{fill:'#fff'});T(g,1097,1285,'HDAC4-NT',16,'middle',{fill:'#fff'});T(g,1285,1283,'43kDa',13,'start');
 const rows=[['pNOP-PRA-HDAC4','+-+-+-+-'],['pNOP-PRA','-+-+-+-+'],['pGAL-PRA-ABHD5','-++---++'],['pGAL-PRA','+--++--+'],['2% Galactose','----++++']];
 rows.forEach((r,i)=>{const yy=1316+i*17;T(g,1117,yy,r[0],15,'end');
  for(let k=0;k<8;k++)T(g,1134+k*23,yy,r[1][k],15,'middle');});
 T(g,1318,1380,'kDa',10,'start');
 const blots=[[1388,1418,'IB: HDAC4','130'],[1422,1450,'','37'],[1453,1483,'IB: ABHD5','50']];
 blots.forEach((b,i)=>{const r=el(g,'rect',{x:1125,y:b[0],width:180,height:b[1]-b[0],fill:'#fcfcfc',stroke:'#000','stroke-width':1});
  el(g,'line',{x1:1305,y1:(b[0]+b[1])/2,x2:1310,y2:(b[0]+b[1])/2,stroke:'#000'});T(g,1311,(b[0]+b[1])/2+4,b[3],10,'start');
  if(b[2])T(g,1117,b[0]+(i==0?26:20),b[2],15,'end');});
 [0,2,4,6].forEach(k=>el(g,'rect',{x:1124+k*23,y:1396,width:22,height:10,rx:4,fill:'#111'}));
 el(g,'rect',{x:1262,y:1432,width:16,height:6,rx:2,fill:'#555'});
 el(g,'rect',{x:1237,y:1460,width:44,height:16,rx:6,fill:'#000'});
})();
</script>
</body></html>
